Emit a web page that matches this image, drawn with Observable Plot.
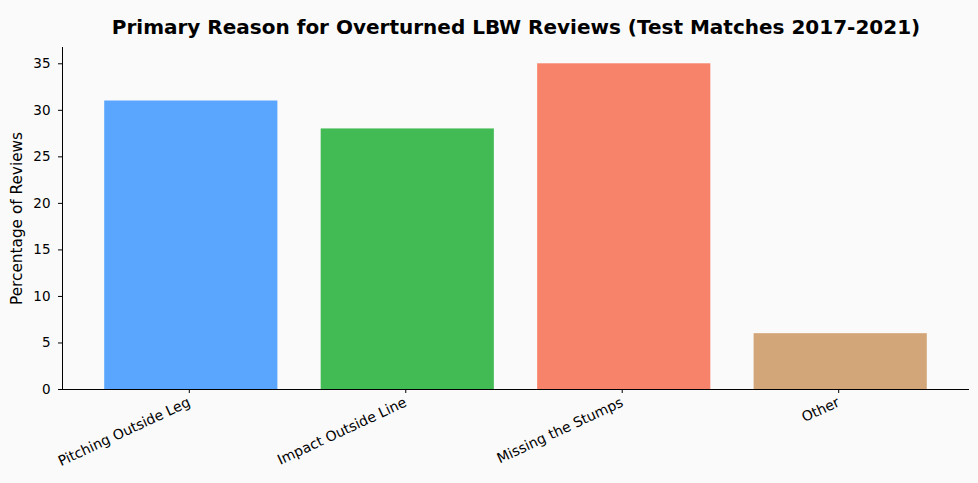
<!DOCTYPE html>
<html><head><meta charset="utf-8">
<script src="https://cdn.jsdelivr.net/npm/d3@7"></script>
<script src="https://cdn.jsdelivr.net/npm/@observablehq/plot@0.6"></script>
<style>
html,body{margin:0;padding:0;background:#fafafa;}
#chart svg{background:#fafafa;display:block;}
</style></head>
<body><div id="chart"></div>
<script>
const categories = ["Pitching Outside Leg", "Impact Outside Line", "Missing the Stumps", "Other"];
const percentages = [31, 28, 35, 6];
const colors = ["#5aa6ff", "#42bb55", "#f7836a", "#d2a679"];
const yTicks = [0, 5, 10, 15, 20, 25, 30, 35];
const title = "Primary Reason for Overturned LBW Reviews (Test Matches 2017-2021)";
const yLabel = "Percentage of Reviews";

const data = categories.map((c, i) => ({category: c, value: percentages[i], color: colors[i]}));

const chart = Plot.plot({
  width: 978,
  height: 483,
  marginLeft: 62,
  marginRight: 9,
  marginTop: 47,
  marginBottom: 94,
  style: {background: "#fafafa", fontFamily: "DejaVu Sans, sans-serif", color: "#000"},
  x: {domain: categories, paddingInner: 0.2, paddingOuter: 0.195, round: false, label: null},
  y: {domain: [0, 36.75], label: null},
  marks: [
    Plot.barY(data, {x: "category", y: "value", fill: "color"}),
    Plot.axisY({ticks: yTicks, tickSize: 4, tickPadding: 8, fontSize: 13.5, label: null, stroke: "#000"}),
    Plot.frame({anchor: "left", stroke: "#000", strokeWidth: 1}),
    Plot.ruleY([0], {stroke: "#000", strokeWidth: 1}),
    Plot.axisX({tickSize: 4, tickPadding: 8, tickRotate: -25, fontSize: 14, label: null, stroke: "#000", dx: -2}),
    Plot.text([yLabel], {frameAnchor: "left", dx: -45, rotate: -90, textAnchor: "middle", fontSize: 15.3, fill: "#000"}),
    Plot.text([title], {frameAnchor: "top", dy: -28, fontSize: 20, fontWeight: "bold", fill: "#000"})
  ]
});
document.getElementById("chart").appendChild(chart);
</script></body></html>
